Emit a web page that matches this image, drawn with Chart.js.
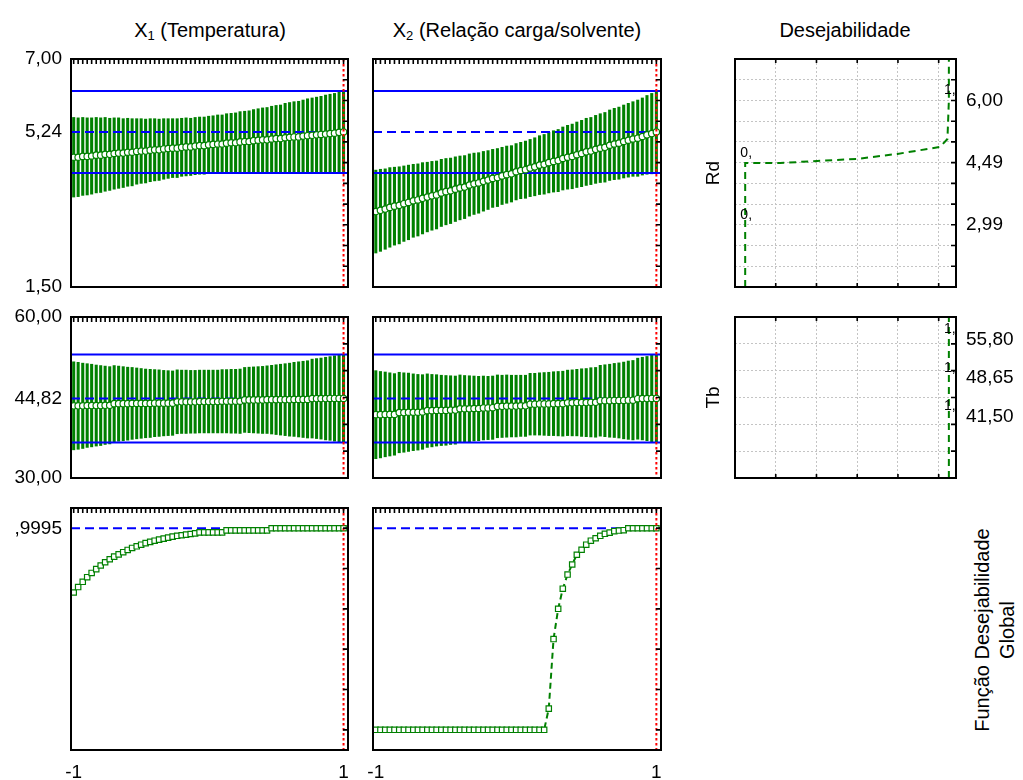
<!DOCTYPE html>
<html lang="pt-BR">
<head>
<meta charset="utf-8">
<title>Perfis de valores previstos e desejabilidade</title>
<script src="https://cdn.jsdelivr.net/npm/chart.js@4.4.1/dist/chart.umd.min.js"></script>
<style>
  html, body { margin: 0; padding: 0; background: #fff; }
  #quadro { position: relative; width: 1023px; height: 780px; overflow: hidden;
            font-family: "Liberation Sans", Arial, sans-serif; color: #000; }
  #quadro canvas { position: absolute; }
  .titulo { position: absolute; top: 18px; font-size: 20px; line-height: 24px;
            white-space: nowrap; transform: translateX(-50%); }
  .titulo sub { font-size: 13px; vertical-align: -3px; line-height: 0; }
  #rotuloGlobal { position: absolute; left: 845px; top: 605px; width: 300px;
                  font-size: 20px; line-height: 25px; text-align: center;
                  transform: rotate(-90deg); }
</style>
</head>
<body>
<div id="quadro">
  <div class="titulo" style="left:210px">X<sub>1</sub> (Temperatura)</div>
  <div class="titulo" style="left:517px">X<sub>2</sub> (Relação carga/solvente)</div>
  <div class="titulo" style="left:845px">Desejabilidade</div>
  <div id="rotuloGlobal">Função Desejabilidade<br>Global</div>
</div>
<script>
// níveis codificados dos fatores (-1 a 1)
const X_GRID = [
  -1, -0.967, -0.933, -0.9, -0.867, -0.833, -0.8, -0.767, -0.733, -0.7,
  -0.667, -0.633, -0.6, -0.567, -0.533, -0.5, -0.467, -0.433, -0.4, -0.367,
  -0.333, -0.3, -0.267, -0.233, -0.2, -0.167, -0.133, -0.1, -0.067, -0.033,
  0, 0.033, 0.067, 0.1, 0.133, 0.167, 0.2, 0.233, 0.267, 0.3,
  0.333, 0.367, 0.4, 0.433, 0.467, 0.5, 0.533, 0.567, 0.6, 0.633,
  0.667, 0.7, 0.733, 0.767, 0.8, 0.833, 0.867, 0.9, 0.933, 0.967, 1
];
const X_ATUAL = 1;

// Rd previsto e meia largura do intervalo de confiança
const RD_X1_MEDIA = [
  4.63, 4.63, 4.65, 4.65, 4.66, 4.68, 4.68, 4.70, 4.70, 4.72,
  4.73, 4.73, 4.75, 4.75, 4.77, 4.78, 4.78, 4.80, 4.81, 4.81,
  4.83, 4.84, 4.85, 4.85, 4.87, 4.88, 4.88, 4.90, 4.91, 4.91,
  4.93, 4.94, 4.95, 4.95, 4.97, 4.98, 4.98, 5.00, 5.01, 5.01,
  5.03, 5.04, 5.05, 5.05, 5.07, 5.08, 5.08, 5.10, 5.11, 5.12,
  5.12, 5.14, 5.15, 5.16, 5.17, 5.18, 5.19, 5.20, 5.21, 5.23, 5.24
];
const RD_X1_IC = [
  0.96, 0.95, 0.94, 0.93, 0.92, 0.91, 0.90, 0.89, 0.87, 0.86,
  0.85, 0.83, 0.82, 0.81, 0.79, 0.78, 0.77, 0.76, 0.75, 0.74,
  0.73, 0.72, 0.71, 0.71, 0.70, 0.70, 0.69, 0.69, 0.69, 0.69,
  0.69, 0.69, 0.70, 0.70, 0.71, 0.71, 0.72, 0.73, 0.73, 0.74,
  0.75, 0.76, 0.77, 0.78, 0.79, 0.80, 0.81, 0.83, 0.84, 0.85,
  0.86, 0.87, 0.89, 0.90, 0.91, 0.92, 0.94, 0.95, 0.96, 0.98, 0.99
];
const RD_X2_MEDIA = [
  3.32, 3.35, 3.38, 3.42, 3.45, 3.47, 3.51, 3.54, 3.58, 3.60,
  3.64, 3.67, 3.70, 3.72, 3.77, 3.80, 3.82, 3.86, 3.89, 3.91,
  3.96, 3.99, 4.01, 4.05, 4.08, 4.12, 4.14, 4.18, 4.21, 4.23,
  4.28, 4.31, 4.33, 4.37, 4.40, 4.44, 4.46, 4.50, 4.53, 4.55,
  4.60, 4.63, 4.65, 4.69, 4.72, 4.76, 4.78, 4.82, 4.85, 4.87,
  4.92, 4.95, 4.97, 5.01, 5.04, 5.07, 5.09, 5.13, 5.17, 5.20, 5.24
];
const RD_X2_IC = [
  1.00, 0.99, 0.97, 0.96, 0.94, 0.93, 0.91, 0.90, 0.88, 0.87,
  0.86, 0.84, 0.83, 0.82, 0.81, 0.80, 0.79, 0.78, 0.77, 0.76,
  0.75, 0.74, 0.73, 0.72, 0.71, 0.70, 0.70, 0.69, 0.69, 0.68,
  0.68, 0.68, 0.69, 0.69, 0.70, 0.71, 0.72, 0.73, 0.74, 0.75,
  0.76, 0.77, 0.78, 0.79, 0.80, 0.81, 0.81, 0.82, 0.83, 0.84,
  0.85, 0.86, 0.87, 0.88, 0.89, 0.90, 0.92, 0.93, 0.95, 0.97, 0.99
];

// Tb previsto e meia largura do intervalo de confiança
const TB_X1_MEDIA = [
  43.45, 43.45, 43.45, 43.50, 43.50, 43.50, 43.50, 43.55, 43.55,
  43.85, 43.85, 43.85, 43.85, 43.90, 43.90, 43.90, 43.90, 43.90, 43.95, 43.95, 43.95, 43.95, 43.95,
  44.20, 44.20, 44.20, 44.20, 44.20, 44.25, 44.25, 44.25, 44.25, 44.25, 44.30, 44.30, 44.30, 44.30, 44.30,
  44.55, 44.55, 44.55, 44.55, 44.55, 44.60, 44.60, 44.60, 44.60, 44.60, 44.60, 44.65, 44.65, 44.65, 44.65,
  44.80, 44.80, 44.80, 44.80, 44.82, 44.82, 44.82, 44.82
];
const TB_X1_IC = [
  8.20, 8.10, 7.95, 7.80, 7.70, 7.55, 7.45, 7.30, 7.20, 7.10,
  7.00, 6.90, 6.80, 6.70, 6.60, 6.50, 6.40, 6.35, 6.25, 6.20,
  6.10, 6.05, 6.00, 5.95, 5.90, 5.90, 5.85, 5.85, 5.85, 5.85,
  5.85, 5.85, 5.85, 5.90, 5.90, 5.95, 5.95, 6.00, 6.05, 6.10,
  6.15, 6.20, 6.25, 6.30, 6.40, 6.50, 6.60, 6.70, 6.80, 6.90,
  7.00, 7.10, 7.20, 7.35, 7.45, 7.55, 7.70, 7.80, 7.95, 8.10, 8.20
];
const TB_X2_MEDIA = [
  41.80, 41.80, 41.85, 41.85, 41.85,
  42.20, 42.20, 42.25, 42.25, 42.25, 42.30,
  42.55, 42.55, 42.60, 42.60, 42.60, 42.65, 42.65,
  42.90, 42.90, 42.90, 42.95, 42.95,
  43.05, 43.05, 43.10,
  43.35, 43.35, 43.40, 43.40, 43.40, 43.45, 43.45,
  43.75, 43.75, 43.80, 43.80, 43.80, 43.85, 43.85, 43.85,
  44.00, 44.00, 44.05, 44.05, 44.05, 44.10, 44.10,
  44.40, 44.40, 44.40, 44.45, 44.45, 44.45, 44.50, 44.50,
  44.78, 44.80, 44.80, 44.82, 44.82
];
const TB_X2_IC = [
  8.20, 8.05, 7.90, 7.75, 7.60, 7.50, 7.40, 7.30, 7.15, 7.05,
  6.95, 6.85, 6.75, 6.65, 6.55, 6.50, 6.40, 6.35, 6.30, 6.20,
  6.15, 6.05, 6.00, 5.95, 5.90, 5.90, 5.85, 5.80, 5.80, 5.75,
  5.75, 5.70, 5.70, 5.75, 5.75, 5.80, 5.85, 5.90, 5.95, 6.00,
  6.05, 6.10, 6.15, 6.20, 6.30, 6.35, 6.45, 6.50, 6.60, 6.70,
  6.80, 6.90, 7.00, 7.15, 7.30, 7.40, 7.55, 7.70, 7.85, 8.05, 8.20
];

// desejabilidade global
const D_X1 = [
  0.681, 0.708, 0.734, 0.757, 0.778, 0.797, 0.815, 0.831, 0.846, 0.859,
  0.870, 0.881, 0.892, 0.902, 0.910, 0.918, 0.926, 0.932, 0.938, 0.943,
  0.948, 0.953, 0.958, 0.962, 0.965, 0.968, 0.971, 0.974, 0.979, 0.979,
  0.979, 0.979, 0.979, 0.979, 0.989, 0.989, 0.989, 0.989, 0.989, 0.989,
  0.989, 0.989, 0.989, 0.989, 0.9995, 0.9995, 0.9995, 0.9995, 0.9995, 0.9995,
  0.9995, 0.9995, 0.9995, 0.9995, 0.9995, 0.9995, 0.9995, 0.9995, 0.9995, 0.9995, 0.9995
];
const D_X2 = [
  0, 0, 0, 0, 0, 0, 0, 0, 0, 0,
  0, 0, 0, 0, 0, 0, 0, 0, 0, 0,
  0, 0, 0, 0, 0, 0, 0, 0, 0, 0,
  0, 0, 0, 0, 0, 0, 0, 0.105, 0.450, 0.600,
  0.700, 0.770, 0.820, 0.868, 0.893, 0.918, 0.938, 0.950, 0.962, 0.972,
  0.978, 0.985, 0.988, 0.990, 0.9995, 0.9995, 0.9995, 0.9995, 0.9995, 0.9995, 0.9995
];

// valores previstos no ponto atual e limites de confiança
const RD_PREVISTO = 5.24;
const RD_LIMITES = [4.25, 6.23];
const TB_PREVISTO = 44.82;
const TB_LIMITES = [36.62, 53.02];
const D_PREVISTO = 0.9995;

// escalas e rótulos
const RD_FAIXA = [1.5, 7.0];
const RD_TICKS = [1.5, 5.24, 7.0];
const RD_ROTULOS = ['1,50', '5,24', '7,00'];
const RD_GRADE = [2, 2.5, 3, 3.5, 4, 4.5, 5, 5.5, 6, 6.5];
const TB_FAIXA = [30, 60];
const TB_TICKS = [30, 44.82, 60];
const TB_ROTULOS = ['30,00', '44,82', '60,00'];
const TB_GRADE = [35, 40, 45, 50, 55];
const D_FAIXA = [-0.1, 1.1];
const D_TICKS = [0.9995];
const D_ROTULOS = [',9995'];
const D_GRADE = [0, 0.2, 0.4, 0.6, 0.8, 1];
const X_TICKS = [-1, 1];
const X_ROTULOS = ['-1', '1'];

// funções de desejabilidade individuais
const DESJ_GRADE_X = [0.15, 0.35, 0.55, 0.75, 0.95];
const DESJ_RD_VALOR = [1.5, 2.99, 4.49, 4.49, 4.54, 4.59, 4.71, 4.88, 5.07, 6.00, 7.0];
const DESJ_RD_D = [0, 0, 0, 0.172, 0.353, 0.55, 0.747, 0.957, 0.993, 1, 1];
const DESJ_RD_ROT_VALOR = [2.99, 4.49, 6.00];
const DESJ_RD_ROT_ROTULOS = ['2,99', '4,49', '6,00'];
const DESJ_RD_MARCAS = ['0,', '0,', '1,'];
const DESJ_RD_MARCAS_D = [0, 0, 1];
const DESJ_TB_VALOR = [30, 41.5, 48.65, 55.8, 60];
const DESJ_TB_D = [1, 1, 1, 1, 1];
const DESJ_TB_ROT_VALOR = [41.5, 48.65, 55.8];
const DESJ_TB_ROT_ROTULOS = ['41,50', '48,65', '55,80'];
const DESJ_TB_MARCAS = ['1,', '1,', '1,'];
const DESJ_TB_MARCAS_D = [1, 1, 1];

const FONTE = '"Liberation Sans", Arial, sans-serif';
const TAM = 19;
const VERDE = '#008000';
const AZUL = '#0000ff';
const VERMELHO = '#ff0000';
const PAD = { left: 24, top: 24, right: 24, bottom: 24 };

Chart.defaults.font.family = FONTE;
Chart.defaults.color = '#000';

const COL1 = { l: 71, r: 348 }, COL2 = { l: 373, r: 661 }, COL3 = { l: 735, r: 956 };
const LIN1 = { t: 59, b: 287 }, LIN2 = { t: 317, b: 478 }, LIN3 = { t: 508, b: 750 };

function tracar(ctx, l, x1, y1, x2, y2) {
  ctx.save();
  ctx.strokeStyle = l.cor;
  ctx.lineWidth = l.largura;
  ctx.setLineDash(l.traco || []);
  ctx.beginPath();
  ctx.moveTo(x1, y1);
  ctx.lineTo(x2, y2);
  ctx.stroke();
  ctx.restore();
}

// moldura do painel, linhas de referência, marcas internas e rótulos pequenos
function moldura(op) {
  return {
    id: 'moldura',
    // as linhas azuis ficam sobre as barras e sob a curva média (dataset 0)
    beforeDatasetDraw(chart, args) {
      if (args.index !== 0) return;
      const { ctx, chartArea: a, scales } = chart;
      (op.linhasH || []).forEach(l => {
        const y = scales.y.getPixelForValue(l.valor);
        tracar(ctx, l, a.left, y, a.right, y);
      });
    },
    afterDatasetsDraw(chart) {
      const { ctx, chartArea: a, scales } = chart;
      (op.linhasV || []).forEach(l => {
        const x = scales.x.getPixelForValue(l.valor);
        tracar(ctx, l, x, a.top, x, a.bottom);
      });
      ctx.save();
      ctx.strokeStyle = '#000';
      ctx.lineWidth = 1.6;
      ctx.beginPath();
      (op.ticksTopo || []).forEach(v => {
        const x = scales.x.getPixelForValue(v);
        ctx.moveTo(x, a.top); ctx.lineTo(x, a.top + op.tamTopo);
      });
      (op.ticksBase || []).forEach(v => {
        const x = scales.x.getPixelForValue(v);
        ctx.moveTo(x, a.bottom); ctx.lineTo(x, a.bottom - 4);
      });
      (op.ticksDireita || []).forEach(v => {
        const y = scales.y.getPixelForValue(v);
        ctx.moveTo(a.right, y); ctx.lineTo(a.right - 5, y);
      });
      ctx.stroke();
      ctx.lineWidth = 2;
      ctx.strokeRect(a.left, a.top, a.right - a.left, a.bottom - a.top);
      if (op.marcas) {
        ctx.font = '14px ' + FONTE;
        ctx.fillStyle = '#000';
        ctx.textAlign = 'center';
        ctx.textBaseline = 'bottom';
        op.marcas.texto.forEach((t, i) => {
          const x = scales.x.getPixelForValue(op.marcas.d[i]);
          const y = scales.y.getPixelForValue(op.marcas.v[i]);
          ctx.fillText(t, x + 1, y - 3);
        });
      }
      ctx.restore();
    }
  };
}

function montarPainel(area, esq, dir, baixo, config) {
  const canvas = document.createElement('canvas');
  const w = area.r - area.l + esq + dir + PAD.left + PAD.right;
  const h = area.b - area.t + baixo + PAD.top + PAD.bottom;
  canvas.width = w;
  canvas.height = h;
  canvas.style.left = (area.l - esq - PAD.left) + 'px';
  canvas.style.top = (area.t - PAD.top) + 'px';
  document.getElementById('quadro').appendChild(canvas);
  Object.assign(config.options, {
    responsive: false,
    animation: false,
    events: [],
    layout: { padding: PAD }
  });
  config.options.plugins = { legend: { display: false }, tooltip: { enabled: false } };
  return new Chart(canvas, config);
}

function fixarTicks(valores) {
  return s => { s.ticks = valores.map(v => ({ value: v })); };
}

// painel de valores previstos contra um fator
function painelPerfil(area, p) {
  const datasets = [{
    type: 'line',
    data: X_GRID.map((x, i) => ({ x, y: p.media[i] })),
    borderColor: VERDE,
    borderWidth: p.ic ? 1.3 : 2,
    borderDash: p.ic ? [] : [6, 4],
    pointStyle: p.ic ? 'circle' : 'rect',
    pointRadius: p.ic ? 3.2 : 3.8,
    pointBorderWidth: 1.2,
    pointBorderColor: VERDE,
    pointBackgroundColor: '#fff',
    order: 0
  }];
  if (p.ic) {
    datasets.push({
      type: 'bar',
      data: X_GRID.map((x, i) => ({ x, y: [p.media[i] - p.ic[i], p.media[i] + p.ic[i]] })),
      backgroundColor: VERDE,
      borderWidth: 0,
      barThickness: 2.4,
      order: 1
    });
  }
  const linhasH = [{ valor: p.previsto, cor: AZUL, largura: 2, traco: [9, 5] }];
  (p.limites || []).forEach(v => linhasH.push({ valor: v, cor: AZUL, largura: 2 }));

  const esq = p.mostrarY ? 71 : 0;
  const baixo = p.mostrarX ? 30 : 0;
  return montarPainel(area, esq, 0, baixo, {
    type: 'line',
    data: { datasets },
    options: {
      scales: {
        x: {
          type: 'linear', min: -1.02, max: 1.033, offset: false, display: p.mostrarX,
          afterBuildTicks: fixarTicks(X_TICKS),
          afterFit: s => { s.height = baixo; },
          ticks: {
            callback: v => X_ROTULOS[X_TICKS.indexOf(v)],
            font: { size: TAM }, padding: 11, autoSkip: false, maxRotation: 0
          },
          grid: { display: false, drawTicks: false, offset: false },
          border: { display: false }
        },
        y: {
          type: 'linear', min: p.faixa[0], max: p.faixa[1], display: p.mostrarY,
          afterBuildTicks: fixarTicks(p.ticks),
          afterFit: s => { s.width = esq; },
          ticks: {
            callback: v => p.rotulos[p.ticks.indexOf(v)],
            font: { size: TAM }, padding: 9, autoSkip: false
          },
          grid: { display: false, drawTicks: false },
          border: { display: false }
        }
      }
    },
    plugins: [moldura({
      linhasH,
      linhasV: [{ valor: X_ATUAL, cor: VERMELHO, largura: 2, traco: [2.5, 2.5] }],
      ticksTopo: X_GRID,
      tamTopo: 5,
      ticksDireita: p.grade
    })]
  });
}

// painel da função de desejabilidade de uma resposta
function painelDesejabilidade(area, p) {
  const rotulosGrade = p.grade.concat(p.rotValor.filter(v => !p.grade.includes(v)));
  return montarPainel(area, 37, 62, 0, {
    type: 'line',
    data: {
      datasets: [{
        data: p.d.map((d, i) => ({ x: d, y: p.valor[i] })),
        borderColor: VERDE,
        borderWidth: 2,
        borderDash: [7, 5],
        pointRadius: 0,
        tension: 0
      }]
    },
    options: {
      scales: {
        x: {
          type: 'linear', min: -0.05, max: 1.035,
          afterBuildTicks: fixarTicks(DESJ_GRADE_X),
          afterFit: s => { s.height = 0; },
          ticks: { display: false },
          grid: { color: '#c4c4c4', lineWidth: 1, drawTicks: false },
          border: { display: false, dash: [2, 2] }
        },
        y: {
          type: 'linear', position: 'right', min: p.faixa[0], max: p.faixa[1],
          afterBuildTicks: fixarTicks(rotulosGrade),
          afterFit: s => { s.width = 62; },
          ticks: {
            callback: v => {
              const i = p.rotValor.indexOf(v);
              return i >= 0 ? p.rotRotulos[i] : '';
            },
            font: { size: TAM }, padding: 10, autoSkip: false
          },
          grid: {
            color: c => (c.tick && p.grade.includes(c.tick.value)) ? '#c4c4c4' : 'rgba(0,0,0,0)',
            lineWidth: 1, drawTicks: false
          },
          border: { display: false, dash: [2, 2] }
        },
        yTitulo: {
          type: 'linear', position: 'left', min: p.faixa[0], max: p.faixa[1],
          afterFit: s => { s.width = 37; },
          ticks: { display: false },
          grid: { display: false, drawTicks: false },
          border: { display: false },
          title: { display: true, text: p.titulo, font: { size: TAM }, color: '#000' }
        }
      }
    },
    plugins: [moldura({
      ticksTopo: DESJ_GRADE_X,
      tamTopo: 4,
      ticksBase: DESJ_GRADE_X,
      ticksDireita: p.grade,
      marcas: { texto: p.marcas, d: p.marcasD, v: p.rotValor }
    })]
  });
}

// linha 1: Rd
painelPerfil({ ...COL1, ...LIN1 }, {
  media: RD_X1_MEDIA, ic: RD_X1_IC, faixa: RD_FAIXA, ticks: RD_TICKS, rotulos: RD_ROTULOS,
  grade: RD_GRADE, previsto: RD_PREVISTO, limites: RD_LIMITES, mostrarY: true, mostrarX: false
});
painelPerfil({ ...COL2, ...LIN1 }, {
  media: RD_X2_MEDIA, ic: RD_X2_IC, faixa: RD_FAIXA, ticks: RD_TICKS, rotulos: RD_ROTULOS,
  grade: RD_GRADE, previsto: RD_PREVISTO, limites: RD_LIMITES, mostrarY: false, mostrarX: false
});
painelDesejabilidade({ ...COL3, ...LIN1 }, {
  titulo: 'Rd', valor: DESJ_RD_VALOR, d: DESJ_RD_D, faixa: RD_FAIXA, grade: RD_GRADE,
  rotValor: DESJ_RD_ROT_VALOR, rotRotulos: DESJ_RD_ROT_ROTULOS,
  marcas: DESJ_RD_MARCAS, marcasD: DESJ_RD_MARCAS_D
});

// linha 2: Tb
painelPerfil({ ...COL1, ...LIN2 }, {
  media: TB_X1_MEDIA, ic: TB_X1_IC, faixa: TB_FAIXA, ticks: TB_TICKS, rotulos: TB_ROTULOS,
  grade: TB_GRADE, previsto: TB_PREVISTO, limites: TB_LIMITES, mostrarY: true, mostrarX: false
});
painelPerfil({ ...COL2, ...LIN2 }, {
  media: TB_X2_MEDIA, ic: TB_X2_IC, faixa: TB_FAIXA, ticks: TB_TICKS, rotulos: TB_ROTULOS,
  grade: TB_GRADE, previsto: TB_PREVISTO, limites: TB_LIMITES, mostrarY: false, mostrarX: false
});
painelDesejabilidade({ ...COL3, ...LIN2 }, {
  titulo: 'Tb', valor: DESJ_TB_VALOR, d: DESJ_TB_D, faixa: TB_FAIXA, grade: TB_GRADE,
  rotValor: DESJ_TB_ROT_VALOR, rotRotulos: DESJ_TB_ROT_ROTULOS,
  marcas: DESJ_TB_MARCAS, marcasD: DESJ_TB_MARCAS_D
});

// linha 3: desejabilidade global
painelPerfil({ ...COL1, ...LIN3 }, {
  media: D_X1, faixa: D_FAIXA, ticks: D_TICKS, rotulos: D_ROTULOS,
  grade: D_GRADE, previsto: D_PREVISTO, mostrarY: true, mostrarX: true
});
painelPerfil({ ...COL2, ...LIN3 }, {
  media: D_X2, faixa: D_FAIXA, ticks: D_TICKS, rotulos: D_ROTULOS,
  grade: D_GRADE, previsto: D_PREVISTO, mostrarY: false, mostrarX: true
});
</script>
</body>
</html>
